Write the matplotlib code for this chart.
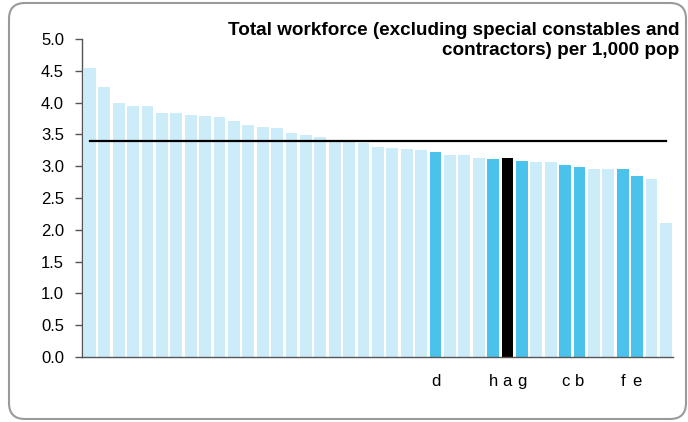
import matplotlib
matplotlib.use("Agg")
import matplotlib.pyplot as plt
from matplotlib.patches import FancyBboxPatch

# workforce per 1,000 population, sorted descending
values = [4.55, 4.24, 4.00, 3.94, 3.94, 3.84, 3.83, 3.80, 3.79, 3.78,
          3.71, 3.65, 3.62, 3.60, 3.52, 3.49, 3.46, 3.40, 3.39, 3.36,
          3.30, 3.29, 3.27, 3.25, 3.22, 3.18, 3.18, 3.13, 3.12, 3.13,
          3.08, 3.07, 3.06, 3.02, 2.98, 2.96, 2.96, 2.95, 2.85, 2.80,
          2.10]
labels = [''] * 24 + ['d', '', '', '', 'h', 'a', 'g', '', '', 'c', 'b',
                      '', '', 'f', 'e', '', '']
average = 3.39
title = 'Total workforce (excluding special constables and\ncontractors) per 1,000 pop'

light = '#CDECF9'
dark = '#4BC2EC'
colors = []
for lab in labels:
    if lab == '':
        colors.append(light)
    elif lab == 'a':
        colors.append('black')
    else:
        colors.append(dark)

plt.rcParams['font.family'] = ['Liberation Sans', 'DejaVu Sans']

fig = plt.figure(figsize=(6.88, 4.22), dpi=100)
ax = fig.add_axes([0.1192, 0.154, 0.859, 0.7536])

x = list(range(len(values)))
ax.bar(x, values, width=0.82, color=colors, zorder=2)
ax.plot([0, len(values) - 1], [average, average], color='black', lw=1.6, zorder=3)

ax.set_ylim(0, 5)
ax.set_xlim(-0.55, len(values) - 0.5)
ax.set_yticks([0, 0.5, 1, 1.5, 2, 2.5, 3, 3.5, 4, 4.5, 5])
ax.set_yticklabels(['%.1f' % v for v in ax.get_yticks()])
ax.set_xticks(x)
ax.set_xticklabels(labels)
ax.tick_params(axis='x', length=0, pad=12, labelsize=12)
ax.tick_params(axis='y', length=5, width=1, color='#555555', pad=8, labelsize=12)
for s in ['top', 'right']:
    ax.spines[s].set_visible(False)
for s in ['left', 'bottom']:
    ax.spines[s].set_color('#555555')
    ax.spines[s].set_linewidth(1)

fig.text(0.988, 0.948, title, ha='right', va='top', fontsize=13.6, fontweight='bold',
         linespacing=1.2)

frame = FancyBboxPatch((0.09, 0.03), 6.77, 4.16, boxstyle='round,pad=0,rounding_size=0.16',
                       transform=fig.dpi_scale_trans, fill=False, edgecolor='#9A9A9A', lw=1.5)
fig.patches.append(frame)

fig.savefig('out.png', dpi=100)
